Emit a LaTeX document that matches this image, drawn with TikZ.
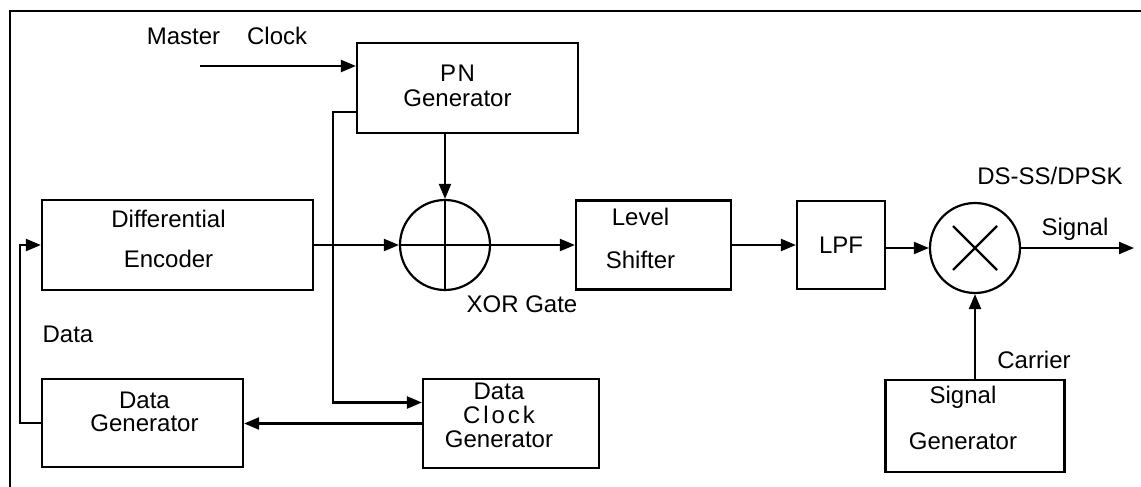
\documentclass[tikz,border=0pt]{standalone}
\usepackage{fontspec}
\setmainfont{Liberation Sans}
\usepackage{tikz}
\usetikzlibrary{arrows.meta}
\tikzset{sig/.style = {-{Triangle[length=15pt,width=12pt]}}}
\tikzset{blk/.style = {draw, rectangle, inner sep=0}}
\tikzset{junc/.style = {draw, circle, inner sep=0, minimum size=90}}
\tikzset{lbl/.style = {inner sep=0, align=center}}
\tikzset{
  every picture/.style={
    every path/.style={line width=2.2pt},
    every node/.style={font=\fontsize{24}{29}\selectfont},
  }
}

\begin{document}
\begin{tikzpicture}[x=1pt,y=-1pt]
    \useasboundingbox (0,0) rectangle (1141,487);
    \draw (10,487) -- (10,11) -- (1141,11);
    % blocks
    \node[blk, minimum width=221, minimum height=90] (pn) at (467.5,88) {};
    \node[blk, minimum width=271, minimum height=90] (de) at (177.5,245) {};
    \node[junc] (xor) at (445,245) {};
    \node[blk, minimum width=155, minimum height=89] (ls) at (653.5,245) {};
    \node[blk, minimum width=88, minimum height=88] (lpf) at (841,245) {LPF};
    \node[junc] (mix) at (975,248) {};
    \node[blk, minimum width=201, minimum height=88] (dg) at (142.5,423) {};
    \node[blk, minimum width=176, minimum height=89] (dcg) at (511,423.5) {};
    \node[blk, minimum width=179, minimum height=92] (sg) at (975,426) {};
    % block texts
    \node[lbl, xshift=-10pt, yshift=2pt] (pntxt) at (pn)
      {{\addfontfeatures{LetterSpace=6}PN}\\[-4pt]Generator};
    \node[lbl, xshift=-9pt, yshift=6pt] (detxt) at (de)
      {Differential\\[11pt]Encoder};
    \node[lbl, xshift=-13pt, yshift=7pt] (lstxt) at (ls)
      {Level\\[14pt]Shifter};
    \node[lbl, xshift=2pt, yshift=11pt] (dgtxt) at (dg)
      {Data\\[-6pt]Generator};
    \node[lbl, xshift=-12pt, yshift=8pt] (dcgtxt) at (dcg)
      {Data\\[-5pt]{\addfontfeatures{LetterSpace=12}Clock}\\[-5pt]Generator};
    \node[lbl, xshift=-12pt, yshift=8pt] (sgtxt) at (sg)
      {Signal\\[17pt]Generator};
    % labels
    \node[lbl] (mclab) at (227,36) {Master\hspace{27pt}Clock};
    \node[lbl] (dslab) at (1050,176) {DS-SS/DPSK};
    \node[lbl] (siglab) at (1075,229) {Signal};
    \node[lbl] (carlab) at (1034,360) {Carrier};
    \node[lbl] (xorlab) at (522,304) {XOR Gate};
    \node[lbl] (datlab) at (68,334) {Data};
    \coordinate (mclk) at (200,66);
    \coordinate (tap) at (333,112);
    \coordinate (out) at (1134,248);
    % connectors
    \draw[sig] (mclk) -- (mclk -| pn.west);
    \draw[sig] (pn.south -| xor.north) -- (xor.north);
    \draw (xor.north) -- (xor.south);
    \draw[sig] (de.east) -- (xor.west);
    \draw[sig] (xor.west) -- (ls.west);
    \draw[sig] (ls.east) -- (lpf.west);
    \draw[sig] (lpf.east |- mix) -- (mix.west);
    \draw ([shift={(-22,-22)}]mix.center) -- ([shift={(22,22)}]mix.center);
    \draw ([shift={(-22,22)}]mix.center) -- ([shift={(22,-22)}]mix.center);
    \draw[sig] (mix.east) -- (out);
    \draw[sig] (sg.north) -- (mix.south);
    \draw[sig] (pn.west |- tap) -- (tap) |- ([yshift=21pt]dcg.west);
    \draw[sig] (dcg.west) -- (dcg.west -| dg.east);
    \draw[sig] (dg.west) -- ++(-21,0) |- (de.west);
\end{tikzpicture}
\end{document}
